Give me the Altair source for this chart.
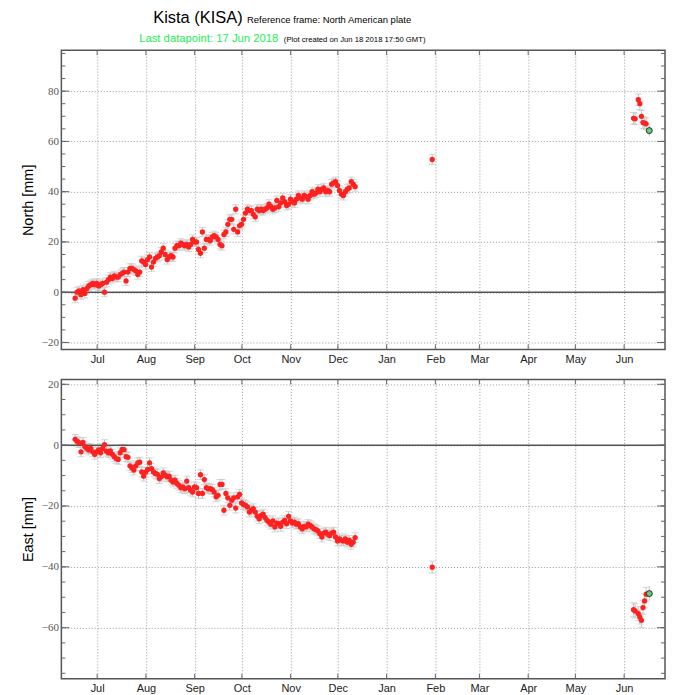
import altair as alt
import pandas as pd

# ---------------- text ----------------
title_main = "Kista (KISA)"
title_ref = "Reference frame: North American plate"
title_last = "Last datapoint: 17 Jun 2018"
title_created = "(Plot created on Jun 18 2018 17:50 GMT)"
north_label = "North [mm]"
east_label = "East [mm]"

# ---------------- data ----------------
series_start = "2017-06-17"
series_end = "2017-12-12"

north_vals = [
    -2.4, 0, 0.5, -1, 1, -0.5, 1.5, 2.5, 3, 3.5,
    3, 3.5, 2.5, 3, 3.5, 0, 4, 5, 6, 5.5,
    6.5, 6, 6, 7, 7.5, 8, 4.5, 8, 9.5, 9.5,
    9, 8.5, 7, 8, 12.5, 12, 11, 13, 14, 10,
    12, 13.5, 14, 14.5, 16, 17.5, 15, 13, 14, 14.5,
    14, 17.5, 18.5, 18.5, 19.5, 19, 18.5, 19, 18, 19,
    21, 20, 20, 17, 15.5, 24, 17.5, 21, 21, 20.5,
    22, 22.5, 22, 21, 19, 18.5, 23, 24, 27, 29,
    29, 25, 33, 24, 26.5, 27, 29, 31.5, 33, 32.5,
    32.5, 31, 30, 33, 32.5, 33, 32.5, 33, 33.5, 35,
    34, 33, 33.5, 36.5, 34, 35.5, 37.5, 36, 34.5, 35,
    37, 36, 35.5, 37, 38.5, 37.5, 37, 38.5, 38, 37,
    38.5, 40, 39, 39.5, 41, 40, 41, 41.5, 40, 40.5,
    40, 43, 43.5, 44, 42.5, 40.5, 39, 38.5, 40, 41,
    41.5, 44, 43, 42,
]

east_vals = [
    1.9, 1.3, 0.8, -2.2, 0.9, -0.5, -1.1, -1.6, -1.1, -2.2,
    -3, -2.2, -1.6, -2.5, -1.1, 0.2, -2, -2.5, -1.9, -3,
    -3.8, -4.4, -4.7, -2.5, -1.4, -1.5, -3.8, -4, -6.8, -7.4,
    -8.2, -6.8, -5.8, -5.6, -8.8, -10.2, -8.9, -8, -5.8, -7.7,
    -8.8, -9.3, -9.6, -11, -10.4, -9.1, -9.9, -10.4, -10.2, -11.5,
    -12.1, -11.5, -12.6, -13.2, -14, -13.7, -14.3, -11.8, -14, -14.8,
    -15.4, -13.7, -14, -15.9, -9.7, -15.9, -11.3, -14, -14.4, -14.3,
    -14.6, -15.4, -17, -16.5, -12.9, -12.9, -21.4, -15.9, -17.3, -19.8,
    -18.1, -17.3, -20.7, -17, -16.2, -19, -19.5, -19.8, -20.3, -22,
    -21.4, -20.9, -22, -23.4, -24.2, -23.1, -22.7, -23.8, -24.7, -25.3,
    -26, -24.9, -26.9, -25.6, -25.8, -26.7, -25.3, -24.7, -25.8, -23.4,
    -24.9, -25.6, -25.3, -26, -25.8, -26.9, -27.5, -26.7, -26.9, -26,
    -26.4, -26.9, -27.5, -27.8, -28.2, -29.1, -30.2, -28.9, -28.6, -29.3,
    -29.7, -28.9, -28.6, -30.2, -31.5, -30.8, -31.3, -31.5, -30.8, -31.9,
    -31.3, -32.6, -31.9, -30.4,
]
main_sigma = [1.8, 1.6]  # north, east

extra_dates = ["2018-01-30", "2018-06-07", "2018-06-08", "2018-06-10", "2018-06-11",
               "2018-06-12", "2018-06-13", "2018-06-14", "2018-06-15"]
extra_north = [52.8, 69.2, 69.0, 76.6, 75.0, 70.0, 67.5, 67.3, 67.0]
extra_east = [-40.1, -54.1, -54.5, -55.4, -56.5, -57.6, -53.4, -51.2, -49.0]
extra_sigma = [2.0, 2.3, 2.3, 2.3, 2.3, 2.3, 2.3, 2.3, 2.3]

last_date = ["2018-06-17"]
last_north = [64.3]
last_east = [-48.8]
last_sigma = [2.3]

month_ticks = ["2017-07-01", "2017-08-01", "2017-09-01", "2017-10-01", "2017-11-01",
               "2017-12-01", "2018-01-01", "2018-02-01", "2018-03-01", "2018-04-01",
               "2018-05-01", "2018-06-01"]

north_major = [-20, 0, 20, 40, 60, 80]
north_minor = list(range(-20, 96, 5))
east_major = [-60, -40, -20, 0, 20]
east_minor = list(range(-75, 21, 5))
north_domain = [-22.8, 96.3]
east_domain = [-76.8, 21.6]

# ---------------- layout ----------------
W, H = 605, 300
FONT = "Liberation Sans"

xscale = alt.Scale(type="utc",
                   domain=[alt.DateTime(year=2017, month=6, date=8, hours=6, utc=True),
                           alt.DateTime(year=2018, month=6, date=27, utc=True)])


def iso(d):
    return d + "T00:00:00Z"


def make_df(vals, sig, ex_vals, ex_sig):
    dates = pd.date_range(series_start, series_end, periods=len(vals)).strftime("%Y-%m-%dT%H:%M:%SZ")
    df = pd.DataFrame({
        "date": list(dates) + [iso(d) for d in extra_dates],
        "v": list(vals) + list(ex_vals),
        "s": [sig] * len(vals) + list(ex_sig),
    })
    df["lo"] = df["v"] - df["s"]
    df["hi"] = df["v"] + df["s"]
    return df


def make_last(vals):
    df = pd.DataFrame({"date": [iso(d) for d in last_date], "v": vals, "s": last_sigma})
    df["lo"] = df["v"] - df["s"]
    df["hi"] = df["v"] + df["s"]
    return df


def panel(df, last_df, domain, major, minor, ytitle, with_title=False):
    ysc = alt.Scale(domain=domain, nice=False, zero=False)
    xenc = alt.X("date:T", scale=xscale,
                 axis=alt.Axis(title=None, format="%b",
                               tickCount={"interval": "month", "step": 1},
                               grid=True, gridDash=[1, 2], gridColor="#9a9a9a",
                               ticks=False, domain=False, labelFont=FONT,
                               labelFontSize=11, labelColor="#222", labelPadding=4))
    yaxis = alt.Axis(values=major, title=ytitle, titleFont=FONT, titleFontSize=14.5,
                     titleFontWeight="normal", titleColor="#000", titlePadding=6,
                     labelFont="Liberation Serif", labelFontSize=11, labelColor="#555",
                     grid=True, gridDash=[1, 2], gridColor="#9a9a9a",
                     ticks=False, domain=False, labelPadding=3)

    base = alt.Chart(df)
    rule = base.mark_rule(color="#c4c4c4", strokeWidth=1).encode(
        x=xenc, y=alt.Y("lo:Q", scale=ysc, axis=yaxis), y2="hi:Q")
    cap_lo = base.mark_tick(color="#c4c4c4", orient="horizontal", size=7, thickness=1).encode(
        x=alt.X("date:T", scale=xscale), y=alt.Y("lo:Q", scale=ysc))
    cap_hi = base.mark_tick(color="#c4c4c4", orient="horizontal", size=7, thickness=1).encode(
        x=alt.X("date:T", scale=xscale), y=alt.Y("hi:Q", scale=ysc))

    zero = alt.Chart(pd.DataFrame({"z": [0]})).mark_rule(color="#555", strokeWidth=1.5).encode(
        y=alt.Y("z:Q", scale=ysc))

    pts = base.mark_circle(size=28, color="#ff2020", opacity=1).encode(
        x=alt.X("date:T", scale=xscale), y=alt.Y("v:Q", scale=ysc))

    lb = alt.Chart(last_df)
    last_rule = lb.mark_rule(color="#c4c4c4").encode(
        x=alt.X("date:T", scale=xscale), y=alt.Y("lo:Q", scale=ysc), y2="hi:Q")
    last_pt = lb.mark_point(filled=True, fill="#5fcf7a", stroke="#2a2a2a", strokeWidth=1,
                            size=36, opacity=1).encode(
        x=alt.X("date:T", scale=xscale), y=alt.Y("v:Q", scale=ysc))

    majdf = alt.Chart(pd.DataFrame({"t": major}))
    mindf = alt.Chart(pd.DataFrame({"t": minor}))
    mondf = alt.Chart(pd.DataFrame({"m": [iso(d) for d in month_ticks]}))
    tcol = "#666"
    ticks = [
        majdf.mark_rule(color=tcol).encode(y=alt.Y("t:Q", scale=ysc), x=alt.value(0), x2=alt.value(8)),
        majdf.mark_rule(color=tcol).encode(y=alt.Y("t:Q", scale=ysc), x=alt.value(W - 8), x2=alt.value(W)),
        mindf.mark_rule(color=tcol).encode(y=alt.Y("t:Q", scale=ysc), x=alt.value(0), x2=alt.value(4)),
        mindf.mark_rule(color=tcol).encode(y=alt.Y("t:Q", scale=ysc), x=alt.value(W - 4), x2=alt.value(W)),
        mondf.mark_rule(color=tcol).encode(x=alt.X("m:T", scale=xscale), y=alt.value(0), y2=alt.value(5)),
        mondf.mark_rule(color=tcol).encode(x=alt.X("m:T", scale=xscale), y=alt.value(H - 5), y2=alt.value(H)),
    ]

    layers = [rule, cap_lo, cap_hi, zero] + ticks + [pts, last_rule, last_pt]

    if with_title:
        def txt(t, x, y, size, color):
            return alt.Chart(pd.DataFrame({"t": [t]})).mark_text(
                text=t, font=FONT, fontSize=size, color=color, align="left",
                baseline="alphabetic").encode(x=alt.value(x), y=alt.value(y))
        layers += [
            txt(title_main, 92, -27, 16.5, "#000"),
            txt(title_ref, 186, -27, 9.5, "#000"),
            txt(title_last, 78, -8, 11.3, "#22ee55"),
            txt(title_created, 223, -8.5, 7.7, "#000"),
        ]

    return alt.layer(*layers).properties(width=W, height=H)


north_df = make_df(north_vals, main_sigma[0], extra_north, extra_sigma)
east_df = make_df(east_vals, main_sigma[1], extra_east, extra_sigma)

north = panel(north_df, make_last(last_north), north_domain, north_major, north_minor,
              north_label, with_title=True)
east = panel(east_df, make_last(last_east), east_domain, east_major, east_minor, east_label)

chart = alt.vconcat(north, east, spacing=12).properties(
    padding={"left": 19.5, "top": 8.5, "right": 6, "bottom": 5},
    background="white",
).configure_view(stroke="#555", strokeWidth=1.5)

chart.save("out.html", embed_options={"renderer": "svg", "actions": False})
